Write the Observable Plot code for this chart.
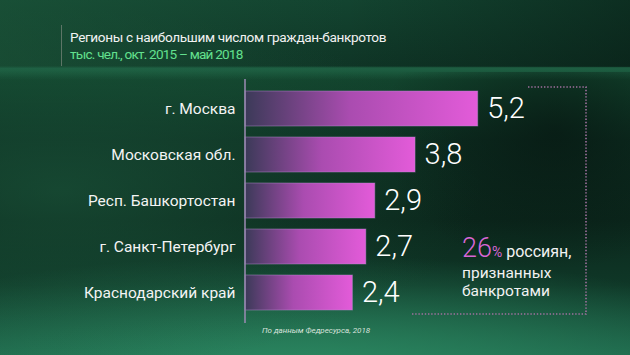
<!DOCTYPE html>
<html>
<head>
<meta charset="utf-8">
<script src="https://cdn.jsdelivr.net/npm/d3@7"></script>
<script src="https://cdn.jsdelivr.net/npm/@observablehq/plot@0.6"></script>
<style>
  html, body { margin: 0; padding: 0; }
  body { width: 630px; height: 355px; overflow: hidden; font-family: Roboto, "Noto Sans", sans-serif; }
  #wrap {
    position: relative; width: 630px; height: 355px; overflow: hidden;
    background:
      linear-gradient(180deg, rgba(0,0,0,0) 0px, rgba(0,0,0,0) 66px, rgba(40,120,85,0.55) 68px, rgba(40,120,85,0.0) 80px),
      radial-gradient(ellipse 420px 180px at 60px 190px, rgba(30,95,65,0.55), rgba(30,95,65,0) 100%),
      radial-gradient(ellipse 520px 120px at 300px 375px, rgba(45,140,100,0.95), rgba(45,140,100,0) 100%),
      linear-gradient(180deg, #134430 0px, #0f3526 66px, #13472f 70px, #0d2e21 140px, #0b271c 220px, #0f3727 285px, #1c6147 355px);
  }
  #topband {
    position: absolute; left: 0; top: 0; width: 630px; height: 67px;
    background: linear-gradient(90deg, rgba(30,90,60,0.5) 0%, rgba(10,30,22,0.0) 55%, rgba(5,20,15,0.45) 100%);
  }
  #rightshade {
    position: absolute; left: 380px; top: 72px; width: 250px; height: 200px;
    background: radial-gradient(ellipse at 70% 30%, rgba(5,18,14,0.6), rgba(5,18,14,0) 70%);
  }
  #vline { position: absolute; left: 61px; top: 25px; width: 1px; height: 41px; background: #5d7566; }
  #title { position: absolute; left: 70px; top: 29px; color: #f2f2f2; font-size: 13.6px; letter-spacing: -0.35px; line-height: 17px; white-space: nowrap; }
  #subtitle { position: absolute; left: 70px; top: 46px; color: #63e08e; font-size: 13.6px; letter-spacing: -0.8px; line-height: 17px; white-space: nowrap; }
  #chart { position: absolute; left: 0; top: 0; }
  #chart svg { background: transparent !important; overflow: visible; }
  #box { position: absolute; left: 0; top: 0; font-family: Roboto, "Noto Sans", sans-serif; }
  #caption { position: absolute; left: 262px; top: 326px; color: #d8e2dc; font-size: 8px; font-style: italic; white-space: nowrap; }
</style>
</head>
<body>
<div id="wrap">
  <div id="topband"></div>
  <div id="rightshade"></div>
  <div id="vline"></div>
  <div id="title"></div>
  <div id="subtitle"></div>
  <div id="chart"></div>
  <svg id="box" width="630" height="355"></svg>
  <div id="caption"></div>
</div>
<script>
const titleText = "Регионы с наибольшим числом граждан-банкротов";
const subtitleText = "тыс. чел., окт. 2015 – май 2018";
const captionText = "По данным Федресурса, 2018";
const regions = ["г. Москва", "Московская обл.", "Респ. Башкортостан", "г. Санкт-Петербург", "Краснодарский край"];
const values = [5.2, 3.8, 2.9, 2.7, 2.4];
const shareValue = 26;
const shareLines = ["россиян,", "признанных", "банкротами"];

document.getElementById("title").textContent = titleText;
document.getElementById("subtitle").textContent = subtitleText;
document.getElementById("caption").textContent = captionText;

const data = regions.map((r, i) => ({region: r, value: values[i]}));
const fmt = v => v.toFixed(1).replace(".", ",");

const chart = Plot.plot({
  width: 630,
  height: 355,
  marginLeft: 245,
  marginRight: 27,
  marginTop: 79,
  marginBottom: 32,
  style: {background: "transparent", fontFamily: "Roboto, 'Noto Sans', sans-serif"},
  x: {domain: [0, 8], axis: null},
  y: {domain: regions, padding: 0.23, axis: null},
  marks: [
    Plot.barX(data, {x: "value", y: "region", fill: "url(#barGrad)", stroke: "#b88fd0", strokeOpacity: 0.45, strokeWidth: 1}),
    Plot.ruleX([0], {stroke: "#9c8bb4", strokeWidth: 1.5, dx: -0.5}),
    Plot.axisY({tickSize: 0, tickPadding: 10, fontSize: 15.5, fill: "#f4f4f4", textAnchor: "end", label: null}),
    Plot.text(data, {x: "value", y: "region", text: d => fmt(d.value), dx: 9, textAnchor: "start", fontSize: 29, fontWeight: 300, fill: "#ffffff"})
  ]
});
document.getElementById("chart").appendChild(chart);

// gradient definition for the bars
const svg = d3.select(chart);
const defs = svg.insert("defs", ":first-child");
const g = defs.append("linearGradient").attr("id", "barGrad").attr("x1", "0").attr("x2", "1").attr("y1", "0").attr("y2", "0");
g.append("stop").attr("offset", "0").attr("stop-color", "#3b3a58");
g.append("stop").attr("offset", "0.45").attr("stop-color", "#aa4cb0");
g.append("stop").attr("offset", "1").attr("stop-color", "#e35bd9");

// dotted annotation frame
const box = d3.select("#box");
box.append("path")
  .attr("d", "M528,87 H586 V314 H412")
  .attr("fill", "none")
  .attr("stroke", "#a0709f")
  .attr("stroke-width", 1.6)
  .attr("stroke-dasharray", "1.4 1.8");

// callout
const t1 = box.append("text").attr("x", 462).attr("y", 257).attr("fill", "#f2f2f2");
t1.append("tspan").attr("font-size", 27).attr("font-weight", 300).attr("fill", "#d966d6").text(String(shareValue));
t1.append("tspan").attr("font-size", 14).attr("fill", "#d966d6").text("%");
t1.append("tspan").attr("font-size", 16).text(" " + shareLines[0]);
box.append("text").attr("x", 462).attr("y", 278).attr("font-size", 15.5).attr("fill", "#f2f2f2").text(shareLines[1]);
box.append("text").attr("x", 462).attr("y", 296).attr("font-size", 15.5).attr("fill", "#f2f2f2").text(shareLines[2]);
</script>
</body>
</html>
